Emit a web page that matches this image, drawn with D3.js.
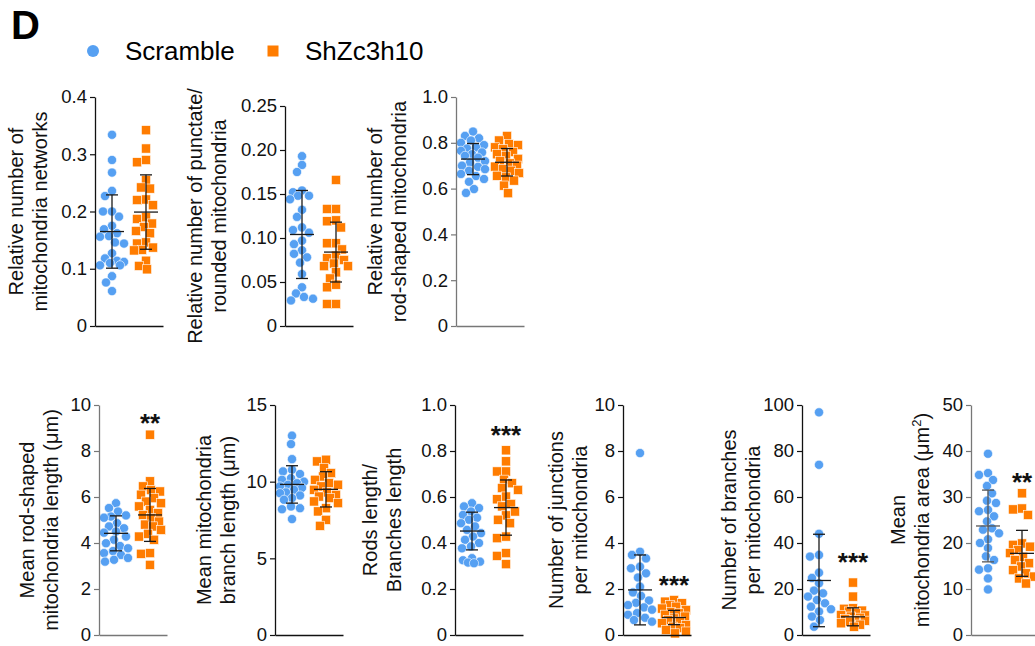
<!DOCTYPE html>
<html>
<head>
<meta charset="utf-8">
<script src="https://cdn.jsdelivr.net/npm/d3@7"></script>
<style>
  body { margin: 0; background: #fff; overflow: hidden; }
  svg { display: block; font-family: "Liberation Sans", Arial, sans-serif; }
</style>
</head>
<body>
<svg id="chart" width="1035" height="646"></svg>
<script>
// groups
const groups = ['Scramble', 'ShZc3h10'];

// per-cell values
const networksScramble = [0.334, 0.29, 0.268, 0.236, 0.227, 0.2, 0.2, 0.191, 0.175, 0.169, 0.162, 0.157, 0.156, 0.146, 0.144, 0.127, 0.118, 0.114, 0.112, 0.11, 0.106, 0.106, 0.087, 0.076, 0.061];
const networksSh = [0.342, 0.31, 0.29, 0.286, 0.255, 0.242, 0.24, 0.221, 0.22, 0.211, 0.19, 0.187, 0.179, 0.173, 0.166, 0.162, 0.146, 0.144, 0.137, 0.133, 0.132, 0.114, 0.105, 0.099];
const punctateScramble = [0.193, 0.183, 0.175, 0.154, 0.152, 0.148, 0.148, 0.144, 0.132, 0.124, 0.112, 0.109, 0.106, 0.097, 0.093, 0.086, 0.082, 0.078, 0.072, 0.059, 0.044, 0.037, 0.033, 0.031, 0.029];
const punctateSh = [0.166, 0.133, 0.133, 0.12, 0.119, 0.112, 0.094, 0.094, 0.087, 0.08, 0.077, 0.075, 0.071, 0.068, 0.068, 0.061, 0.054, 0.047, 0.044, 0.025, 0.025];
const rodShapedScramble = [0.849, 0.83, 0.82, 0.81, 0.8, 0.79, 0.78, 0.775, 0.765, 0.758, 0.75, 0.743, 0.735, 0.72, 0.714, 0.7, 0.695, 0.685, 0.678, 0.664, 0.655, 0.642, 0.63, 0.598, 0.581];
const rodShapedSh = [0.83, 0.81, 0.794, 0.79, 0.78, 0.772, 0.76, 0.75, 0.743, 0.73, 0.72, 0.71, 0.7, 0.696, 0.685, 0.678, 0.668, 0.656, 0.649, 0.635, 0.613, 0.58];
const rodLengthScramble = [5.73, 5.52, 5.37, 5.2, 5.15, 5.1, 4.86, 4.72, 4.64, 4.5, 4.45, 4.28, 4.14, 3.99, 3.87, 3.77, 3.65, 3.56, 3.48, 3.35, 3.27, 3.19];
const rodLengthSh = [8.71, 6.68, 6.46, 6.3, 6.24, 6.1, 5.95, 5.8, 5.73, 5.59, 5.44, 5.3, 5.22, 5.08, 4.93, 4.8, 4.72, 4.57, 4.4, 4.28, 4.14, 3.56, 3.53, 3.05];
const branchLengthScramble = [13.0, 12.45, 11.47, 10.78, 10.67, 10.5, 10.23, 10.12, 10.0, 9.9, 9.8, 9.69, 9.6, 9.47, 9.3, 9.25, 9.1, 8.93, 8.82, 8.38, 8.27, 8.2, 7.56];
const branchLengthSh = [11.43, 11.32, 10.89, 10.56, 10.34, 10.12, 9.91, 9.8, 9.69, 9.47, 9.3, 9.14, 9.03, 8.93, 8.71, 8.6, 8.27, 8.06, 7.51, 7.12];
const rodsBranchesScramble = [0.573, 0.559, 0.552, 0.537, 0.522, 0.51, 0.501, 0.486, 0.472, 0.457, 0.443, 0.428, 0.414, 0.4, 0.385, 0.377, 0.334, 0.325, 0.319, 0.315, 0.312];
const rodsBranchesSh = [0.803, 0.755, 0.711, 0.711, 0.675, 0.66, 0.639, 0.631, 0.602, 0.59, 0.57, 0.559, 0.537, 0.52, 0.501, 0.486, 0.428, 0.421, 0.356, 0.344, 0.308];
const junctionsScramble = [7.91, 3.62, 3.48, 3.33, 2.97, 2.9, 2.68, 2.5, 2.1, 1.85, 1.7, 1.5, 1.4, 1.3, 1.2, 1.1, 0.95, 0.88, 0.75, 0.65, 0.58];
const junctionsSh = [1.52, 1.45, 1.38, 1.3, 1.23, 1.15, 1.09, 1.0, 0.94, 0.88, 0.8, 0.72, 0.65, 0.58, 0.51, 0.43, 0.36, 0.3, 0.22, 0.15, 0.07];
const branchesScramble = [96.8, 74.0, 44.0, 34.8, 34.1, 27.1, 24.8, 22.5, 19.3, 18.1, 16.7, 15.2, 13.8, 12.3, 11.2, 10.2, 8.0, 6.5, 3.6];
const branchesSh = [22.8, 16.7, 11.6, 11.4, 10.6, 10.2, 9.5, 8.7, 8.5, 8.0, 7.5, 7.0, 6.5, 6.2, 5.8, 5.1, 4.5, 3.6];
const areaScramble = [39.4, 35.2, 34.8, 33.7, 32.4, 30.8, 29.2, 28.7, 27.2, 26.9, 25.8, 24.7, 23.2, 22.9, 22.1, 20.8, 20.0, 18.9, 17.1, 16.3, 14.5, 14.2, 12.3, 9.9];
const areaSh = [30.8, 27.5, 27.3, 26.1, 19.9, 19.6, 19.2, 18.5, 17.8, 17.0, 16.3, 15.6, 14.9, 14.1, 13.4, 12.7, 12.3, 11.2];

// mean and SD as drawn in the bars, panel order
const meanScramble = [0.165, 0.104, 0.729, 4.42, 9.82, 0.452, 1.96, 23.7, 23.7];
const sdScramble = [0.064, 0.050, 0.068, 0.76, 1.22, 0.082, 1.52, 20.1, 7.8];
const meanSh = [0.199, 0.084, 0.715, 5.22, 9.5, 0.554, 0.76, 7.9, 17.75];
const sdSh = [0.065, 0.034, 0.06, 1.15, 1.15, 0.12, 0.31, 3.9, 5.0];

// y ticks and their labels
const networksTicks = [0, 0.1, 0.2, 0.3, 0.4];
const networksTickLabels = ['0', '0.1', '0.2', '0.3', '0.4'];
const punctateTicks = [0, 0.05, 0.1, 0.15, 0.2, 0.25];
const punctateTickLabels = ['0', '0.05', '0.10', '0.15', '0.20', '0.25'];
const fractionTicks = [0, 0.2, 0.4, 0.6, 0.8, 1.0];
const fractionTickLabels = ['0', '0.2', '0.4', '0.6', '0.8', '1.0'];
const tenTicks = [0, 2, 4, 6, 8, 10];
const tenTickLabels = ['0', '2', '4', '6', '8', '10'];
const fifteenTicks = [0, 5, 10, 15];
const fifteenTickLabels = ['0', '5', '10', '15'];
const hundredTicks = [0, 20, 40, 60, 80, 100];
const hundredTickLabels = ['0', '20', '40', '60', '80', '100'];
const fiftyTicks = [0, 10, 20, 30, 40, 50];
const fiftyTickLabels = ['0', '10', '20', '30', '40', '50'];

// axis titles
const titles = [
  ['Relative number of', 'mitochondria networks'],
  ['Relative number of punctate/', 'rounded mitochondria'],
  ['Relative number of', 'rod-shaped mitochondria'],
  ['Mean rod-shaped', 'mitochondria length (μm)'],
  ['Mean mitochondria', 'branch length (μm)'],
  ['Rods length/', 'Branches length'],
  ['Number of junctions', 'per mitochondria'],
  ['Number of branches', 'per mitochondria'],
  ['Mean', 'mitochondria area (μm²)']
];

// significance marks and the value where they sit
const sigLabels = ['', '', '', '**', '', '***', '***', '***', '**'];
const sigAt = [0, 0, 0, 9.65, 0, 0.913, 2.6, 36.1, 35.4];

const colors = { Scramble: '#56a0f2', ShZc3h10: '#ff7c00' };

// layout of each panel (pixels)
const panels = [
  { a: networksScramble, b: networksSh, ticks: networksTicks, labels: networksTickLabels, ax: 95, top: 97, bottom: 326, tx: 47, axisColor: '#111' },
  { a: punctateScramble, b: punctateSh, ticks: punctateTicks, labels: punctateTickLabels, ax: 285, top: 106, bottom: 326, tx: 226, axisColor: '#111' },
  { a: rodShapedScramble, b: rodShapedSh, ticks: fractionTicks, labels: fractionTickLabels, ax: 456, top: 97, bottom: 326, tx: 406, axisColor: '#777' },
  { a: rodLengthScramble, b: rodLengthSh, ticks: tenTicks, labels: tenTickLabels, ax: 99, top: 405, bottom: 635, tx: 58, axisColor: '#777' },
  { a: branchLengthScramble, b: branchLengthSh, ticks: fifteenTicks, labels: fifteenTickLabels, ax: 275, top: 405, bottom: 635, tx: 235, axisColor: '#111' },
  { a: rodsBranchesScramble, b: rodsBranchesSh, ticks: fractionTicks, labels: fractionTickLabels, ax: 455, top: 405, bottom: 635, tx: 401, axisColor: '#111' },
  { a: junctionsScramble, b: junctionsSh, ticks: tenTicks, labels: tenTickLabels, ax: 623, top: 405, bottom: 635, tx: 587, axisColor: '#111' },
  { a: branchesScramble, b: branchesSh, ticks: hundredTicks, labels: hundredTickLabels, ax: 802, top: 405, bottom: 635, tx: 760, axisColor: '#111' },
  { a: areaScramble, b: areaSh, ticks: fiftyTicks, labels: fiftyTickLabels, ax: 971, top: 405, bottom: 635, tx: 929, axisColor: '#777' }
];

const svg = d3.select('#chart');

// panel letter
svg.append('text')
  .attr('x', 11).attr('y', 39)
  .attr('font-size', 40).attr('font-weight', 'bold')
  .text('D');

// legend
const legend = svg.append('g');
legend.append('circle').attr('cx', 93).attr('cy', 51).attr('r', 6).attr('fill', colors.Scramble);
legend.append('text').attr('x', 125).attr('y', 60).attr('font-size', 26).text(groups[0]);
legend.append('rect').attr('x', 267.5).attr('y', 45.5).attr('width', 11).attr('height', 11).attr('fill', colors.ShZc3h10);
legend.append('text').attr('x', 305).attr('y', 60).attr('font-size', 26).text(groups[1]);

// simple beeswarm: nearest free horizontal offset, overlap allowed past maxOff
function swarm(values, y, r, maxOff) {
  const placed = [];
  const out = new Array(values.length);
  const order = values.map((v, i) => i).sort((i, j) => values[j] - values[i]);
  order.forEach(i => {
    const py = y(values[i]);
    let best = 0, bestD = -1;
    for (let k = 0; k <= maxOff * 2; k++) {
      const off = (k % 2 ? -1 : 1) * Math.ceil(k / 2);
      const d = placed.length ? d3.min(placed, p => Math.hypot(p.x - off, p.y - py)) : Infinity;
      if (d >= 2 * r * 0.92) { best = off; bestD = d; break; }
      if (d > bestD) { bestD = d; best = off; }
    }
    placed.push({ x: best, y: py });
    out[i] = best;
  });
  return out;
}

panels.forEach((p, idx) => {
  const g = svg.append('g');
  const y = d3.scaleLinear().domain([0, d3.max(p.ticks)]).range([p.bottom, p.top]);
  const x = d3.scalePoint().domain(groups).range([p.ax, p.ax + 68]).padding(0.5);

  // points
  const r = 4.6;
  [[p.a, groups[0]], [p.b, groups[1]]].forEach(([vals, grp]) => {
    const offs = swarm(vals, y, r, 12);
    if (grp === 'Scramble') {
      g.selectAll(null).data(vals).enter().append('circle')
        .attr('cx', (d, i) => x(grp) + offs[i])
        .attr('cy', d => y(d))
        .attr('r', r)
        .attr('fill', colors[grp])
        .attr('stroke', '#fff').attr('stroke-width', 0.6);
    } else {
      g.selectAll(null).data(vals).enter().append('rect')
        .attr('x', (d, i) => x(grp) + offs[i] - r)
        .attr('y', d => y(d) - r)
        .attr('width', r * 2).attr('height', r * 2)
        .attr('fill', colors[grp])
        .attr('stroke', '#fff').attr('stroke-width', 0.6);
    }
  });

  // mean +/- SD
  [[meanScramble[idx], sdScramble[idx], groups[0]], [meanSh[idx], sdSh[idx], groups[1]]].forEach(([m, s, grp]) => {
    const cx = x(grp);
    const col = idx === 8 && grp === 'Scramble' ? '#555' : '#1a1a1a';
    const eb = g.append('g').attr('stroke', col).attr('stroke-width', 1.3);
    eb.append('line').attr('x1', cx).attr('x2', cx).attr('y1', y(m - s)).attr('y2', y(m + s));
    eb.append('line').attr('x1', cx - 6).attr('x2', cx + 6).attr('y1', y(m - s)).attr('y2', y(m - s));
    eb.append('line').attr('x1', cx - 6).attr('x2', cx + 6).attr('y1', y(m + s)).attr('y2', y(m + s));
    eb.append('line').attr('x1', cx - 12).attr('x2', cx + 12).attr('y1', y(m)).attr('y2', y(m));
  });

  // axes
  const yAxis = g.append('g')
    .attr('transform', `translate(${p.ax},0)`)
    .call(d3.axisLeft(y).tickValues(p.ticks).tickFormat((d, i) => p.labels[i]).tickSize(5).tickSizeOuter(0).tickPadding(3));
  const xAxis = g.append('g')
    .attr('transform', `translate(0,${p.bottom})`)
    .call(d3.axisBottom(x).tickValues([]).tickSizeOuter(0));
  [yAxis, xAxis].forEach(a => {
    a.select('.domain').attr('stroke', p.axisColor).attr('stroke-width', 1.3);
    a.selectAll('.tick line').attr('stroke', p.axisColor).attr('stroke-width', 1.2);
    a.selectAll('text').attr('font-size', 18.5).attr('fill', '#111')
      .attr('font-family', '"Liberation Sans", Arial, sans-serif');
  });

  // axis title
  const cy = (p.top + p.bottom) / 2;
  const title = g.append('text')
    .attr('transform', `translate(0,${cy}) rotate(-90)`)
    .attr('text-anchor', 'middle')
    .attr('font-size', 20)
    .attr('fill', '#111');
  titles[idx].forEach((line, li) => {
    const t = title.append('tspan')
      .attr('x', 0)
      .attr('y', p.tx - (titles[idx].length - 1 - li) * 24.5);
    if (line.includes('²')) {
      t.text(line.replace('²)', ''));
      t.append('tspan').attr('dy', -8).attr('font-size', 13).text('2');
      t.append('tspan').attr('dy', 8).text(')');
    } else {
      t.text(line);
    }
  });

  // significance
  if (sigLabels[idx]) {
    g.append('text')
      .attr('x', x(groups[1]))
      .attr('y', y(sigAt[idx]) + 18.6)
      .attr('text-anchor', 'middle')
      .attr('font-size', 26)
      .attr('font-weight', 'bold')
      .attr('fill', '#111')
      .text(sigLabels[idx]);
  }
});
</script>
</body>
</html>
